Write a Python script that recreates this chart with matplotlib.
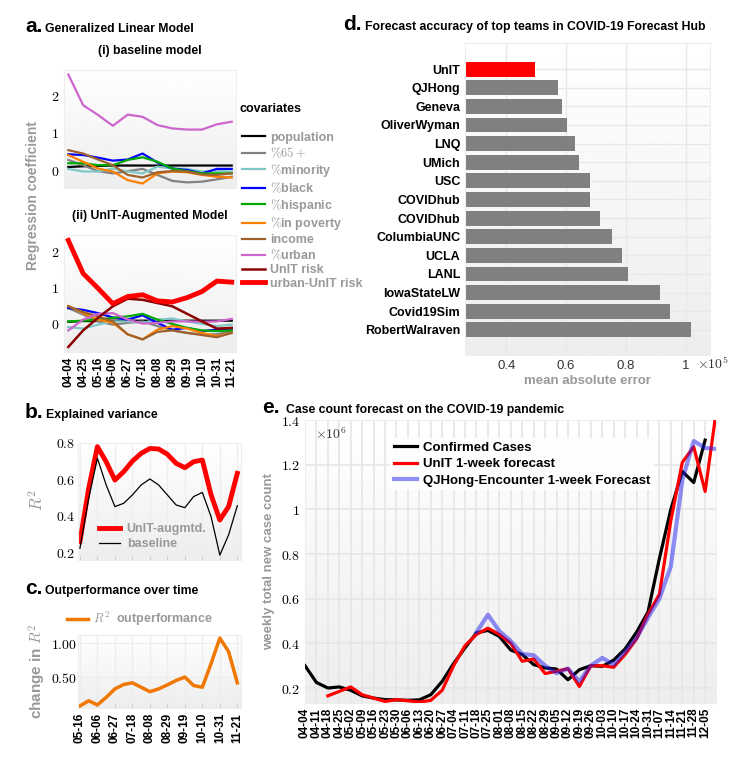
import numpy as np
import matplotlib
matplotlib.use('Agg')
from matplotlib import pyplot as plt

plt.rcParams['font.family'] = ['Liberation Sans', 'DejaVu Sans']
plt.rcParams['mathtext.fontset'] = 'cm'

# ---------------- data: panel a (values at the 3-weekly tick dates)
a_dates = ['04-04', '04-25', '05-16', '06-06', '06-27', '07-18',
           '08-08', '08-29', '09-19', '10-10', '10-31', '11-21']
a_weeks = [0, 3, 6, 9, 12, 15, 18, 21, 24, 27, 30, 33]

covariates = ['population', r'$\%65+$', r'$\%$minority', r'$\%$black', r'$\%$hispanic',
              r'$\%$in poverty', 'income', r'$\%$urban']
cov_colors = ['black', '#808080', '#80c8c8', '#0000ff', '#00aa00',
              '#ff8000', '#a0622d', '#cc66cc']

base_coef = [
    [0.08, 0.10, 0.11, 0.12, 0.12, 0.12, 0.12, 0.12, 0.12, 0.12, 0.12, 0.12],
    [0.27, 0.13, -0.03, -0.09, -0.03, 0.03, -0.13, -0.29, -0.33, -0.31, -0.25, -0.18],
    [0.03, -0.04, -0.04, 0.04, -0.04, -0.09, 0.09, 0.04, 0.03, -0.04, -0.03, -0.04],
    [0.42, 0.40, 0.33, 0.25, 0.28, 0.44, 0.20, 0.04, 0.00, -0.09, 0.03, 0.03],
    [0.18, 0.18, 0.13, 0.13, 0.27, 0.34, 0.22, 0.04, -0.03, -0.09, -0.09, -0.09],
    [0.40, 0.22, 0.04, -0.04, -0.27, -0.36, -0.09, -0.04, -0.06, -0.13, -0.18, -0.20],
    [0.53, 0.44, 0.28, 0.13, -0.13, -0.20, -0.06, -0.03, -0.04, -0.12, -0.13, -0.09],
    [2.55, 1.73, 1.47, 1.18, 1.48, 1.42, 1.20, 1.11, 1.08, 1.08, 1.22, 1.29],
]
aug_coef = [
    [0.06, 0.08, 0.08, 0.09, 0.09, 0.09, 0.09, 0.09, 0.09, 0.09, 0.09, 0.09],
    [0.44, 0.26, 0.07, -0.02, 0.03, 0.07, -0.06, -0.18, -0.25, -0.29, -0.29, -0.20],
    [-0.09, -0.13, -0.02, 0.07, 0.07, 0.03, 0.12, 0.15, 0.07, 0.00, -0.06, -0.02],
    [0.44, 0.39, 0.30, 0.18, 0.12, 0.24, 0.03, -0.16, -0.11, -0.20, -0.16, -0.13],
    [0.07, 0.09, 0.12, 0.17, 0.21, 0.28, 0.12, 0.00, -0.11, -0.18, -0.20, -0.18],
    [0.50, 0.30, 0.12, 0.03, -0.29, -0.43, -0.16, -0.06, -0.13, -0.25, -0.34, -0.25],
    [0.49, 0.33, 0.21, 0.07, -0.29, -0.43, -0.22, -0.18, -0.25, -0.31, -0.37, -0.25],
    [-0.18, 0.12, 0.28, 0.30, 0.12, 0.01, 0.03, 0.07, 0.07, 0.06, 0.07, 0.14],
]
unit_risk = [-0.64, -0.18, 0.17, 0.49, 0.70, 0.67, 0.58, 0.49, 0.28, 0.07, -0.13, -0.11]
urban_unit_risk = [2.32, 1.40, 0.99, 0.56, 0.76, 0.81, 0.64, 0.61, 0.73, 0.90, 1.19, 1.16]

# ---------------- data: panels b and c (half-step positions between 3-weekly dates)
bc_dates = ['05-16', '06-06', '06-27', '07-18', '08-08', '08-29', '09-19', '10-10', '10-31', '11-21']
bc_pos = [0, 0.5, 1, 1.5, 2, 2.5, 3, 3.5, 4, 4.5, 5, 5.5, 6, 6.5, 7, 7.5, 8, 8.5, 9]
r2_unit = [0.257, 0.55, 0.78, 0.697, 0.596, 0.642, 0.70, 0.743, 0.77, 0.767, 0.738,
           0.688, 0.664, 0.697, 0.706, 0.514, 0.376, 0.45, 0.633]
r2_base = [0.22, 0.495, 0.716, 0.569, 0.45, 0.468, 0.514, 0.569, 0.602, 0.569, 0.514,
           0.459, 0.444, 0.505, 0.528, 0.394, 0.183, 0.294, 0.455]
r2_gain = [0.075, 0.15, 0.09, 0.20, 0.325, 0.39, 0.415, 0.35, 0.285, 0.325, 0.385,
           0.45, 0.50, 0.375, 0.35, 0.70, 1.075, 0.875, 0.415]

# ---------------- data: panel d
teams = ['UnIT', 'QJHong', 'Geneva', 'OliverWyman', 'LNQ', 'UMich', 'USC', 'COVIDhub',
         'COVIDhub', 'ColumbiaUNC', 'UCLA', 'LANL', 'IowaStateLW', 'Covid19Sim', 'RobertWalraven']
mae = [0.495, 0.572, 0.586, 0.603, 0.630, 0.643, 0.680, 0.680, 0.713, 0.754,
       0.787, 0.807, 0.915, 0.948, 1.019]

# ---------------- data: panel e (weekly, x 10^6)
e_dates = ['04-04', '04-11', '04-18', '04-25', '05-02', '05-09', '05-16', '05-23', '05-30',
           '06-06', '06-13', '06-20', '06-27', '07-04', '07-11', '07-18', '07-25', '08-01',
           '08-08', '08-15', '08-22', '08-29', '09-05', '09-12', '09-19', '09-26', '10-03',
           '10-10', '10-17', '10-24', '10-31', '11-07', '11-14', '11-21', '11-28', '12-05']
nan = np.nan
confirmed = [0.30, 0.225, 0.20, 0.205, 0.19, 0.165, 0.155, 0.148, 0.147, 0.145, 0.147, 0.17,
             0.23, 0.31, 0.38, 0.447, 0.458, 0.431, 0.37, 0.35, 0.305, 0.29, 0.285, 0.237,
             0.282, 0.30, 0.297, 0.325, 0.375, 0.45, 0.54, 0.78, 1.0, 1.17, 1.12, 1.31, nan]
unit_fc = [nan, nan, 0.165, 0.185, 0.205, 0.17, 0.155, 0.14, 0.148, 0.143, 0.137, 0.145,
           0.19, 0.30, 0.39, 0.44, 0.468, 0.44, 0.40, 0.32, 0.33, 0.265, 0.275, 0.287,
           0.207, 0.30, 0.30, 0.293, 0.35, 0.42, 0.53, 0.62, 0.95, 1.21, 1.28, 1.08, 1.45]
qjhong_fc = [nan] * 15 + [0.45, 0.528, 0.455, 0.41, 0.352, 0.347, 0.30, 0.267, 0.287, 0.23,
                          0.30, 0.335, 0.305, 0.363, 0.424, 0.515, 0.60, 0.745, 1.13, 1.306,
                          1.275, 1.27]

W, H = 752, 769
GRAY_TXT = '#999999'
TITLE_FS = 8.8


def box(l, t, r, b):
    return [l / W, 1 - b / H, (r - l) / W, (b - t) / H]


def style_axes(ax):
    grad = np.linspace(1.0, 0.93, 256).reshape(-1, 1)
    ax.imshow(grad, extent=[0, 1, 0, 1], transform=ax.transAxes, cmap='gray',
              vmin=0, vmax=1, aspect='auto', zorder=-1, origin='upper')
    for s in ax.spines.values():
        s.set_color('#eeeeee')
    ax.set_axisbelow(True)
    ax.tick_params(length=0)


def panel_title(x_letter, x_title, y_base, letter, title):
    fig.text(x_letter / W, 1 - y_base / H, letter, fontsize=15, fontweight='bold', va='baseline')
    fig.text(x_title / W, 1 - y_base / H, title, fontsize=TITLE_FS, fontweight='bold', va='baseline')


def math_labels(vals):
    return ['$%s$' % v for v in vals]


fig = plt.figure(figsize=(W / 100, H / 100), dpi=100)

# ================= panel a
panel_title(25, 45, 32, 'a.', 'Generalized Linear Model')
fig.text(150 / W, 1 - 51 / H, '(i) baseline model', fontsize=TITLE_FS, fontweight='bold', ha='center', va='center')
fig.text(150 / W, 1 - 216 / H, '(ii) UnIT-Augmented Model', fontsize=TITLE_FS, fontweight='bold', ha='center', va='center')
fig.text(33 / W, 1 - 195 / H, 'Regression coefficient', fontsize=10, fontweight='bold',
         color=GRAY_TXT, rotation=90, ha='center', va='center')

ax1 = fig.add_axes(box(64, 70, 236, 188))
style_axes(ax1)
handles = []
for name, col, vals in zip(covariates, cov_colors, base_coef):
    h, = ax1.plot(a_weeks, vals, color=col, lw=1.6, label=name)
    handles.append(h)
ax1.set_xlim(-0.87, 33.87)
ax1.set_ylim(-0.48, 2.67)
ax1.set_yticks([0, 1, 2])
ax1.set_yticklabels(math_labels([0, 1, 2]), fontsize=10)
ax1.set_xticks([])

ax2 = fig.add_axes(box(64, 235, 236, 352))
style_axes(ax2)
for name, col, vals in zip(covariates, cov_colors, aug_coef):
    ax2.plot(a_weeks, vals, color=col, lw=1.6)
h_risk, = ax2.plot(a_weeks, unit_risk, color='#8b0000', lw=1.8, label='UnIT risk')
h_urisk, = ax2.plot(a_weeks, urban_unit_risk, color='#ff0000', lw=3.5, label='urban-UnIT risk')
handles += [h_risk, h_urisk]
ax2.set_xlim(-0.87, 33.87)
ax2.set_ylim(-0.78, 2.47)
ax2.set_yticks([0, 1, 2])
ax2.set_yticklabels(math_labels([0, 1, 2]), fontsize=10)
ax2.set_xticks(a_weeks)
ax2.set_xticklabels(a_dates, rotation=90, fontsize=8.5, fontweight='bold')

fig.text(240 / W, 1 - 109 / H, 'covariates', fontsize=9, fontweight='bold', va='center')
fig.legend(handles, [h.get_label() for h in handles], loc='upper left',
           bbox_to_anchor=(233 / W, 1 - 123 / H), frameon=False,
           prop={'weight': 'bold', 'size': 9}, labelcolor=GRAY_TXT,
           handlelength=1.85, labelspacing=0.14, handletextpad=0.4, borderpad=0.2)

# ================= panel b
panel_title(25, 46, 418, 'b.', 'Explained variance')
axb = fig.add_axes(box(78, 443, 241, 560))
style_axes(axb)
axb.plot(bc_pos, r2_unit, color='#ff0000', lw=3.5, label='UnIT-augmtd.')
axb.plot(bc_pos, r2_base, color='black', lw=0.9, label='baseline')
axb.set_xlim(-0.11, 9.21)
axb.set_ylim(0.156, 0.8)
axb.set_xticks(range(len(bc_dates)))
axb.set_xticklabels([])
axb.tick_params(axis='x', length=3, direction='in', color='#cccccc')
axb.tick_params(axis='y', pad=2)
axb.set_yticks([0.2, 0.4, 0.6, 0.8])
axb.set_yticklabels(math_labels([0.2, 0.4, 0.6, 0.8]), fontsize=10)
axb.grid(axis='x', color='#eeeeee', lw=1)
axb.legend(loc='lower left', bbox_to_anchor=(0.13, 0.085), frameon=False,
           prop={'weight': 'bold', 'size': 9}, labelcolor=GRAY_TXT,
           handlelength=1.7, labelspacing=0.25, handletextpad=0.5, borderpad=0, borderaxespad=0)
fig.text(37 / W, 1 - 500 / H, '$R^2$', fontsize=12, color=GRAY_TXT, rotation=90,
         ha='center', va='center')

# ================= panel c
panel_title(25, 45, 594, 'c.', 'Outperformance over time')
axc = fig.add_axes(box(78, 635, 241, 708))
style_axes(axc)
axc.plot(bc_pos, r2_gain, color='#f07800', lw=2.5, label='$R^2$  outperformance')
axc.set_xlim(-0.11, 9.21)
axc.set_ylim(0.044, 1.12)
axc.set_yticks([0.5, 1.0])
axc.set_yticklabels(math_labels(['0.50', '1.00']), fontsize=10)
axc.set_xticks(range(len(bc_dates)))
axc.set_xticklabels(bc_dates, rotation=90, fontsize=8.5, fontweight='bold')
axc.tick_params(axis='x', length=3, direction='in', color='#cccccc')
axc.tick_params(axis='y', pad=1)
axc.grid(color='#eeeeee', lw=1)
axc.legend(loc='center left', bbox_to_anchor=(-0.07, 1.22), frameon=False,
           prop={'weight': 'bold', 'size': 9}, labelcolor=GRAY_TXT,
           handlelength=1.7, handletextpad=0.4, borderpad=0, borderaxespad=0)
fig.text(37 / W, 1 - 671 / H, 'change in $R^2$', fontsize=11, fontweight='bold',
         color=GRAY_TXT, rotation=90, ha='center', va='center')

# ================= panel d
panel_title(343, 365, 30, 'd.', 'Forecast accuracy of top teams in COVID-19 Forecast Hub')
axd = fig.add_axes(box(465, 43, 710, 355))
style_axes(axd)
ypos = np.arange(len(teams))
bar_cols = ['#ff0000'] + ['#808080'] * (len(teams) - 1)
axd.barh(ypos, mae, height=0.8, color=bar_cols, zorder=2)
axd.set_ylim(15.35, -1.4)
axd.set_xlim(0.261, 1.082)
axd.set_yticks(ypos)
axd.set_yticklabels(teams, fontsize=9, fontweight='bold')
axd.set_xticks([0.4, 0.6, 0.8, 1.0])
axd.set_xticklabels(['0.4', '0.6', '0.8', '1'], fontsize=9.5, color='#333333')
axd.grid(color='#e8e8e8', lw=1)
axd.set_xlabel('mean absolute error', fontsize=9.5, fontweight='bold', color=GRAY_TXT, labelpad=2)
fig.text(697 / W, 1 - 364 / H, r'$\times10^5$', fontsize=10, color='#333333', va='center')

# ================= panel e
panel_title(262, 286, 412.5, 'e.', 'Case count forecast on the COVID-19 pandemic')
axe = fig.add_axes(box(305, 420, 716, 703))
style_axes(axe)
xi = np.arange(len(confirmed))
axe.plot(xi, confirmed, color='black', lw=2.3, label='Confirmed Cases', zorder=3)
axe.plot(xi, unit_fc, color='#ff0000', lw=2.3, label='UnIT 1-week forecast', zorder=4)
axe.plot(xi, qjhong_fc, color='#2020ee', lw=3.0, alpha=0.5,
         label='QJHong-Encounter 1-week Forecast', zorder=5)
axe.set_xlim(0, 35.95)
axe.set_ylim(0.133, 1.4)
axe.set_xticks(range(len(e_dates)))
axe.set_xticklabels(e_dates, rotation=90, fontsize=8.5, fontweight='bold')
yt = [0.2, 0.4, 0.6, 0.8, 1.0, 1.2, 1.4]
axe.set_yticks(yt)
axe.set_yticklabels(math_labels(['0.2', '0.4', '0.6', '0.8', '1', '1.2', '1.4']), fontsize=10)
axe.grid(color='#e6e6e6', lw=1.2)
axe.set_ylabel('weekly total new case count', fontsize=9.5, fontweight='bold', color=GRAY_TXT, labelpad=4)
axe.text(0.025, 0.95, r'$\times10^6$', transform=axe.transAxes, fontsize=10, color='#333333', va='center')
axe.legend(loc='upper left', bbox_to_anchor=(0.19, 0.96), frameon=True, framealpha=0.9,
           edgecolor='none', facecolor='white', fancybox=False,
           prop={'weight': 'bold', 'size': 9.5}, handlelength=1.8, labelspacing=0.3,
           handletextpad=0.4, borderpad=0.3)

fig.savefig('out.png', dpi=100)
